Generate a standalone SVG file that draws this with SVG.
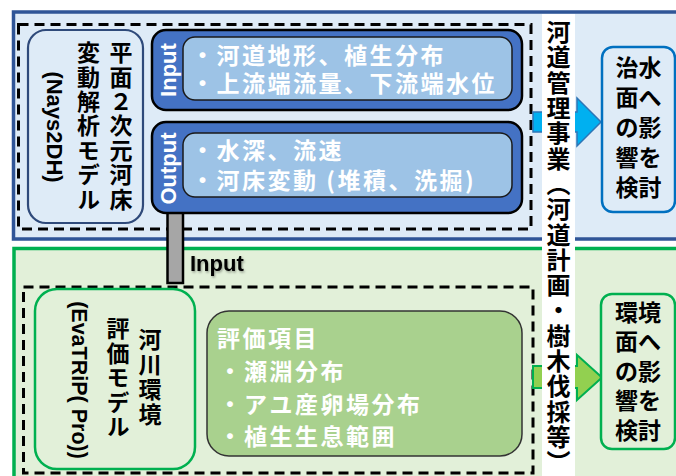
<svg xmlns="http://www.w3.org/2000/svg" width="676" height="476" viewBox="0 0 676 476">
<style>
.jp{font-family:"Noto Sans CJK JP","Noto Sans",sans-serif;font-weight:700}
.lat{font-family:"Liberation Sans",Arial,sans-serif;font-weight:700}
.vt{writing-mode:vertical-rl}
.w{fill:#ffffff}
.k{fill:#000000}
.dash{fill:none;stroke:#000;stroke-width:3;stroke-dasharray:10 6}
.outer{fill:#4472C4;stroke:#000;stroke-width:2.5}
.inner{fill:#9DC3E6;stroke:#1a1a1a;stroke-width:1.5}
</style>
<defs>
<filter id="sh" x="-20%" y="-30%" width="140%" height="160%">
<feDropShadow dx="1" dy="1.5" stdDeviation="1" flood-color="#000" flood-opacity="0.35"/>
</filter>
</defs>
<rect width="676" height="476" fill="#ffffff"/>
<g id="panel-top">
<rect x="13.5" y="12" width="700" height="227" fill="#DEEBF7" stroke="#2F5597" stroke-width="3.5"/>
<rect class="dash" x="18.5" y="24.5" width="512.5" height="204.5"/>
</g>
<g id="panel-bottom">
<rect x="14" y="248.5" width="700" height="240" fill="#E2F0D9" stroke="#00B050" stroke-width="3.5"/>
<rect class="dash" x="23.5" y="287" width="509.5" height="186"/>
</g>
<g id="node-nays2dh">
<rect x="28" y="30" width="115" height="193" rx="18" fill="#DEEBF7" stroke="#2F4A7A" stroke-width="2.2"/>
<text class="jp vt k" x="121" y="41" font-size="23" letter-spacing="1.4">平面２次元河床</text>
<text class="jp vt k" x="88.5" y="41" font-size="23" letter-spacing="1.4">変動解析モデル</text>
<text class="lat k" transform="translate(47,127) rotate(90)" text-anchor="middle" font-size="22">(Nays2DH)</text>
</g>
<g id="node-input">
<rect class="outer" x="152" y="30" width="370" height="80" rx="14"/>
<rect class="inner" x="183" y="37" width="329" height="63" rx="12"/>
<text class="lat w" transform="translate(176,70) rotate(-90)" text-anchor="middle" font-size="22">Input</text>
<text class="jp w" x="191" y="64" font-size="23" letter-spacing="2.5">・河道地形、植生分布</text>
<text class="jp w" x="191" y="92" font-size="23" letter-spacing="2.5">・上流端流量、下流端水位</text>
</g>
<g id="connectors">
<rect x="167.5" y="212" width="15.5" height="71" fill="#A6A6A6" stroke="#000" stroke-width="2.5"/>
<polygon points="533,112 577,112 577,98 601,122 577,146 577,132 533,132" fill="#00B0F0" stroke="#2E75B6" stroke-width="1.5"/>
<polygon points="533,366 577,366 577,355 602,377.5 577,400 577,388 533,388" fill="#92D050" stroke="#00B050" stroke-width="2"/>
</g>
<g id="node-output">
<rect class="outer" x="152" y="122" width="370" height="91" rx="14"/>
<rect class="inner" x="183" y="133" width="329" height="64" rx="12"/>
<text class="lat w" transform="translate(176,168.5) rotate(-90)" text-anchor="middle" font-size="22">Output</text>
<text class="jp w" x="191" y="159" font-size="23" letter-spacing="2.5">・水深、流速</text>
<text class="jp w" x="191" y="189" font-size="23" letter-spacing="2.5">・河床変動 (堆積、洗掘)</text>
</g>
<g id="label-input">
<text class="lat k" x="190" y="271" font-size="22" filter="url(#sh)">Input</text>
</g>
<g id="node-evatrip">
<rect x="35" y="289" width="160" height="180" rx="22" fill="#E2F0D9" stroke="#00B050" stroke-width="2.5"/>
<text class="jp vt k" x="150" y="328" font-size="23" letter-spacing="2">河川環境</text>
<text class="jp vt k" x="118" y="317" font-size="23" letter-spacing="1.5">評価モデル</text>
<text class="lat k" transform="translate(72,380) rotate(90)" text-anchor="middle" font-size="21.5">(EvaTRiP( Pro))</text>
</g>
<g id="node-items">
<rect x="207" y="311" width="315" height="145" rx="22" fill="#A9D18E" stroke="#333" stroke-width="1.5"/>
<text class="jp w" x="217" y="347" font-size="23" letter-spacing="2.5">評価項目</text>
<text class="jp w" x="218.5" y="380" font-size="23" letter-spacing="2.5">・瀬淵分布</text>
<text class="jp w" x="218.5" y="413" font-size="23" letter-spacing="2.5">・アユ産卵場分布</text>
<text class="jp w" x="218.5" y="445" font-size="23" letter-spacing="2.5">・植生生息範囲</text>
</g>
<g id="strip">
<rect x="542" y="14" width="33" height="462" fill="#ffffff"/>
<text class="jp vt k" x="558.5" y="20" font-size="24" letter-spacing="1.3">河道管理事業（河道計画・樹木伐採等）</text>
</g>
<g id="node-chisui">
<rect x="602" y="47" width="73" height="165" rx="11" fill="#DEEBF7" stroke="#0070C0" stroke-width="2.5"/>
<text class="jp k" x="638.5" font-size="23" text-anchor="middle"><tspan x="638.5" y="76">治水</tspan><tspan x="638.5" y="106">面へ</tspan><tspan x="638.5" y="136">の影</tspan><tspan x="638.5" y="166">響を</tspan><tspan x="638.5" y="196">検討</tspan></text>
</g>
<g id="node-kankyo">
<rect x="601" y="294" width="74" height="155" rx="11" fill="#E2F0D9" stroke="#00B050" stroke-width="2.5"/>
<text class="jp k" x="638" font-size="23" text-anchor="middle"><tspan x="638" y="320.5">環境</tspan><tspan x="638" y="350">面へ</tspan><tspan x="638" y="379.5">の影</tspan><tspan x="638" y="409">響を</tspan><tspan x="638" y="438.5">検討</tspan></text>
</g>
</svg>
